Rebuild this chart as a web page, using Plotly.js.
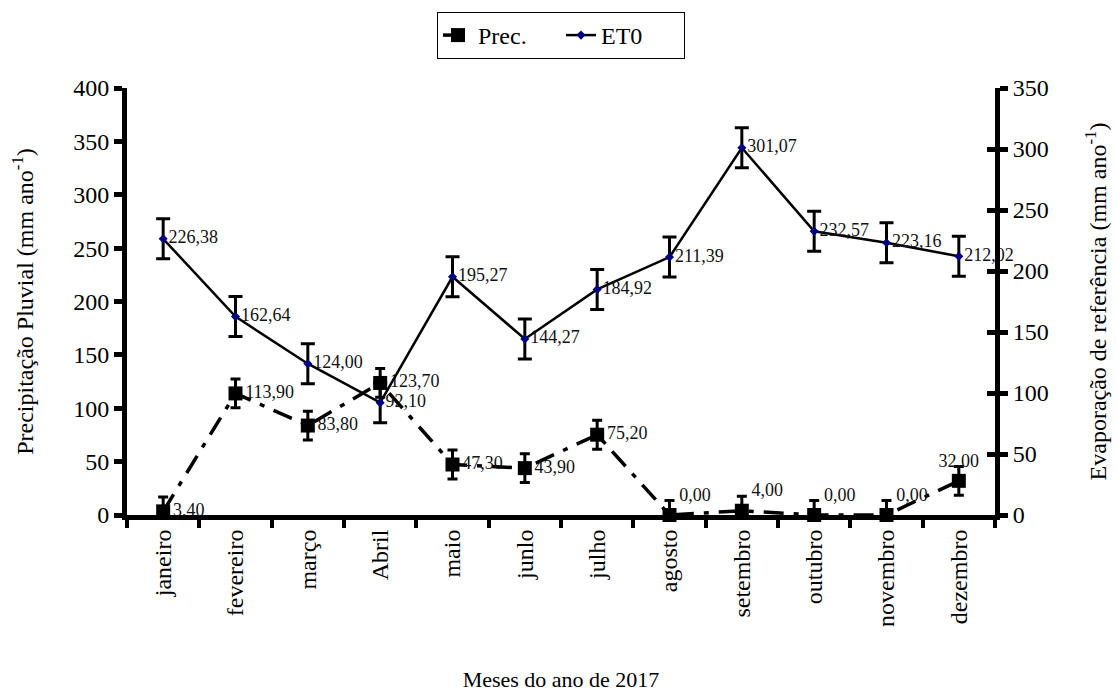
<!DOCTYPE html>
<html>
<head>
<meta charset="utf-8">
<script src="https://cdn.plot.ly/plotly-3.0.1.min.js"></script>
<style>html,body{margin:0;padding:0;background:#fff;}#chart{width:1116px;height:692px;}</style>
</head>
<body>
<div id="chart"></div>
<script>
// ---- data ----
const months = ['janeiro','fevereiro','março','Abril','maio','junlo','julho','agosto','setembro','outubro','novembro','dezembro'];
const prec = [3.40, 113.90, 83.80, 123.70, 47.30, 43.90, 75.20, 0.00, 4.00, 0.00, 0.00, 32.00];
const et0 = [226.38, 162.64, 124.00, 92.10, 195.27, 144.27, 184.92, 211.39, 301.07, 232.57, 223.16, 212.02];
const precErr = 13.5;
const et0Err = 16.4;
const leftTicks = [0, 50, 100, 150, 200, 250, 300, 350, 400];
const rightTicks = [0, 50, 100, 150, 200, 250, 300, 350];

const fmt = v => v.toFixed(2).replace('.', ',');
const FONT = '"Liberation Serif", "Times New Roman", serif';

const precPos = ['middle right','middle right','middle right','middle right','middle right','middle right','middle right','top right','top right','top right','top right','top center'];

const traces = [
  {
    name: 'Prec.', x: months, y: prec, yaxis: 'y', type: 'scatter', mode: 'lines+markers+text',
    line: {color: '#000', width: 3.5, dash: '20px,10px,5px,10px'},
    marker: {symbol: 'square', size: 14, color: '#000'},
    error_y: {type: 'constant', value: precErr, color: '#000', thickness: 3, width: 5},
    text: prec.map(fmt), textposition: precPos,
    textfont: {family: FONT, size: 18, color: '#111'},
    cliponaxis: false
  },
  {
    name: 'ET0', x: months, y: et0, yaxis: 'y2', type: 'scatter', mode: 'lines+markers+text',
    line: {color: '#000', width: 2.5},
    marker: {symbol: 'diamond', size: 7, color: '#000080'},
    error_y: {type: 'constant', value: et0Err, color: '#000', thickness: 3, width: 7},
    text: et0.map(fmt), textposition: 'middle right',
    textfont: {family: FONT, size: 18, color: '#111'},
    cliponaxis: false
  },
  {x: [], y: [], yaxis: 'y3', showlegend: false, hoverinfo: 'skip', type: 'scatter'}
];

const layout = {
  width: 1116, height: 692,
  margin: {l: 127, r: 121, t: 88, b: 177},
  paper_bgcolor: '#fff', plot_bgcolor: '#fff',
  font: {family: FONT, color: '#000', size: 24},
  showlegend: true,
  legend: {orientation: 'h', x: 0.5, xanchor: 'center', y: 1.178, yanchor: 'top',
           bordercolor: '#000', borderwidth: 1, font: {family: FONT, size: 24, color: '#000'},
           bgcolor: '#fff', entrywidth: 78, tracegroupgap: 0},
  xaxis: {
    type: 'category', range: [-0.5, 11.5], tickson: 'boundaries',
    ticks: 'outside', ticklen: 8, tickwidth: 4, tickcolor: '#000',
    showline: true, linewidth: 5, linecolor: '#000', showgrid: false, zeroline: false,
    tickangle: -90, tickfont: {family: FONT, size: 24, color: '#000'},
    title: {text: 'Meses do ano de 2017', font: {family: FONT, size: 22, color: '#000'}, standoff: 48}
  },
  yaxis: {
    range: [0, 400], tickvals: leftTicks, ticks: 'outside', ticklen: 8, tickwidth: 5, tickcolor: '#000',
    showline: true, linewidth: 5, linecolor: '#000', showgrid: false, zeroline: false,
    tickfont: {family: FONT, size: 24, color: '#000'},
    title: {text: 'Precipitação Pluvial (mm ano<sup>-1</sup>)', font: {family: FONT, size: 24, color: '#000'}, standoff: 34}
  },
  yaxis2: {
    overlaying: 'y', side: 'right', range: [0, 350], tickvals: rightTicks,
    ticks: 'outside', ticklen: 8, tickwidth: 5, tickcolor: '#000',
    showline: true, linewidth: 5, linecolor: '#000', showgrid: false, zeroline: false,
    tickfont: {family: FONT, size: 24, color: '#000'},
    title: {text: 'Evaporação de referência (mm ano<sup>-1</sup>)', font: {family: FONT, size: 24, color: '#000'}, standoff: 43}
  },
  yaxis3: {
    overlaying: 'y', side: 'right', range: [0, 350], tickvals: rightTicks,
    ticks: 'inside', ticklen: 8, tickwidth: 5, tickcolor: '#000',
    showticklabels: false, showline: false, showgrid: false, zeroline: false
  }
};

Plotly.newPlot('chart', traces, layout, {displayModeBar: false, staticPlot: true});
</script>
</body>
</html>
